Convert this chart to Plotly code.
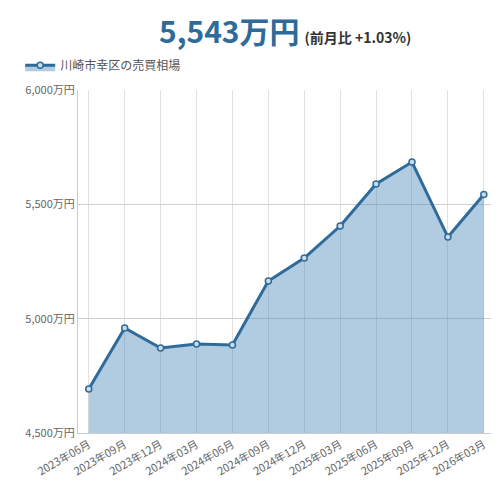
import plotly.graph_objects as go

dates = ["2023年06月","2023年09月","2023年12月","2024年03月","2024年06月","2024年09月",
         "2024年12月","2025年03月","2025年06月","2025年09月","2025年12月","2026年03月"]
prices = [4692, 4959, 4872, 4889, 4885, 5165, 5265, 5405, 5589, 5685, 5357, 5543]
yticks = [4500, 5000, 5500, 6000]
ytick_labels = ["4,500万円", "5,000万円", "5,500万円", "6,000万円"]
series_name = "川崎市幸区の売買相場"

fig = go.Figure()
fig.add_trace(go.Scatter(
    x=dates, y=prices, name=series_name, mode="lines+markers",
    line=dict(color="#2f6b9a", width=3),
    marker=dict(size=6, color="#c7dcec", line=dict(color="#2f6b9a", width=1.5)),
    fill="tozeroy", fillcolor="rgba(70,130,180,0.42)",
))
fig.update_layout(
    width=501, height=496,
    margin=dict(l=67, r=18, t=82, b=71),
    paper_bgcolor="white", plot_bgcolor="white",
    font=dict(family="Noto Sans CJK JP", color="#666", size=11),
    showlegend=True,
    legend=dict(orientation="h", x=-0.14, y=1.03, xanchor="left", yanchor="bottom",
                font=dict(size=12, color="#555")),
    xaxis=dict(showgrid=True, gridcolor="#e0e0e0", tickangle=-30, linecolor="#ccc",
               tickfont=dict(size=11), range=[-0.3, 11.2]),
    yaxis=dict(range=[4500, 6000], tickvals=yticks, ticktext=ytick_labels,
               showgrid=True, gridcolor="#cfcfcf", linecolor="#ccc", tickfont=dict(size=11)),
    annotations=[
        dict(x=0.5, y=1.175, xref="paper", yref="paper", yanchor="middle", showarrow=False,
             text="<b><span style='font-size:30px;color:#2f6b9a'>5,543万円</span></b>"
                  "  <b><span style='font-size:14px;color:#333'>(前月比 +1.03%)</span></b>",
             xanchor="center"),
    ],
)
fig.write_html("out.html")
